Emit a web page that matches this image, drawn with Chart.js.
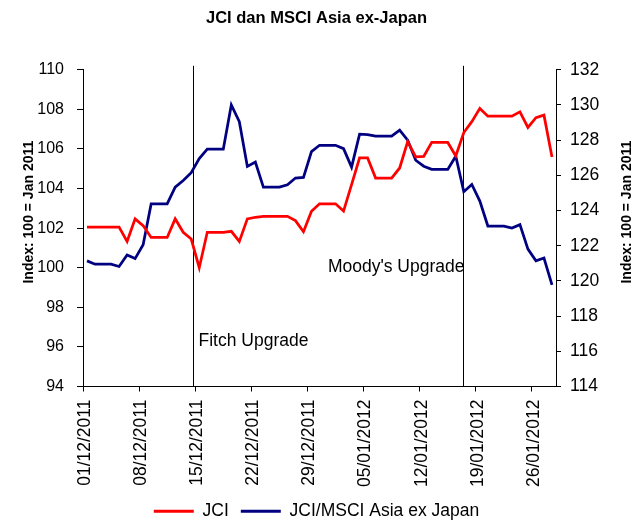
<!DOCTYPE html>
<html>
<head>
<meta charset="utf-8">
<title>JCI dan MSCI Asia ex-Japan</title>
<script src="https://cdn.jsdelivr.net/npm/chart.js@4.4.1/dist/chart.umd.min.js"></script>
<style>
  html, body { margin: 0; padding: 0; background: #fff; }
  #wrap { width: 633px; height: 521px; }
</style>
</head>
<body>
<div id="wrap"><canvas id="jciChart"></canvas></div>
<script>
    // daily index values, 01/12/2011 .. 28/01/2012 (one per day)
    const jci = [
        102.05, 102.05, 102.05, 102.05, 102.05, 101.33, 102.47, 102.13, 101.53, 101.53,
        101.53, 102.47, 101.79, 101.45, 100.00, 101.79, 101.79, 101.79, 101.84, 101.33,
        102.47, 102.55, 102.60, 102.60, 102.60, 102.60, 102.38, 101.82, 102.85, 103.23,
        103.23, 103.23, 102.86, 104.20, 105.55, 105.55, 104.53, 104.53, 104.53, 105.04,
        106.37, 105.60, 105.62, 106.33, 106.33, 106.33, 105.65, 106.83, 107.38, 108.05,
        107.66, 107.66, 107.66, 107.66, 107.88, 107.09, 107.58, 107.71, 105.60
    ];
    const jciMsci = [
        121.14, 120.95, 120.95, 120.95, 120.82, 121.47, 121.27, 122.06, 124.38, 124.38,
        124.38, 125.33, 125.71, 126.15, 126.95, 127.49, 127.49, 127.49, 130.00, 129.05,
        126.51, 126.76, 125.33, 125.33, 125.33, 125.47, 125.85, 125.88, 127.35, 127.71,
        127.71, 127.71, 127.52, 126.47, 128.34, 128.32, 128.23, 128.23, 128.23, 128.57,
        128.00, 126.86, 126.52, 126.34, 126.34, 126.34, 127.09, 125.07, 125.48, 124.54,
        123.12, 123.12, 123.12, 123.01, 123.20, 121.81, 121.14, 121.30, 119.77
    ];
    const tickLabels = ['01/12/2011', '08/12/2011', '15/12/2011', '22/12/2011', '29/12/2011',
        '05/01/2012', '12/01/2012', '19/01/2012', '26/01/2012'];

    // rating events (day offset from 01/12/2011)
    const eventDays = [13.76, 47.45];
    const eventNames = ['Fitch Upgrade', "Moody's Upgrade"];

    const FONT = '"Liberation Sans", Arial, sans-serif';
    Chart.defaults.font.family = FONT;
    Chart.defaults.color = '#000';

    // label placement for the events, in left-axis units
    const eventText = [
        { level: 96.03, side: 'right' },
        { level: 99.77, side: 'left' }
    ];

    const extras = {
        id: 'extras',
        beforeDatasetsDraw(chart) {
            const { ctx, chartArea, scales } = chart;
            ctx.save();
            ctx.strokeStyle = '#000';
            ctx.lineWidth = 1;
            ctx.fillStyle = '#000';
            ctx.font = '17.5px ' + FONT;
            ctx.textBaseline = 'alphabetic';
            eventDays.forEach((d, i) => {
                const x = Math.round(scales.x.getPixelForValue(d)) + 0.5;
                ctx.beginPath();
                ctx.moveTo(x, chartArea.top - 4);
                ctx.lineTo(x, chartArea.bottom);
                ctx.stroke();
                const y = scales.y.getPixelForValue(eventText[i].level);
                if (eventText[i].side === 'right') {
                    ctx.textAlign = 'left';
                    ctx.fillText(eventNames[i], x + 5, y);
                } else {
                    ctx.textAlign = 'right';
                    ctx.fillText(eventNames[i], x + 1, y);
                }
            });
            ctx.restore();
        },
        afterDraw(chart) {
            const { ctx, chartArea } = chart;
            const midY = (chartArea.top + chartArea.bottom) / 2 - 16;
            ctx.save();
            ctx.font = 'bold 14px ' + FONT;
            ctx.fillStyle = '#000';
            ctx.textAlign = 'center';
            ctx.textBaseline = 'middle';
            [29, 627].forEach(x => {
                ctx.save();
                ctx.translate(x, midY);
                ctx.rotate(-Math.PI / 2);
                ctx.fillText('Index: 100 = Jan 2011', 0, 0);
                ctx.restore();
            });
            ctx.restore();
        }
    };

    const ctx = document.getElementById('jciChart').getContext('2d');
    const jciChart = new Chart(ctx, {
        type: 'line',
        data: {
            datasets: [{
                label: 'JCI',
                data: jci.map((v, i) => ({ x: i + 0.5, y: v })),
                borderColor: '#ff0000',
                backgroundColor: '#ff0000',
                borderWidth: 2.75,
                pointRadius: 0,
                yAxisID: 'y'
            }, {
                label: 'JCI/MSCI Asia ex Japan',
                data: jciMsci.map((v, i) => ({ x: i + 0.5, y: v })),
                borderColor: '#000080',
                backgroundColor: '#000080',
                borderWidth: 2.75,
                pointRadius: 0,
                yAxisID: 'y1'
            }]
        },
        options: {
            responsive: true,
            maintainAspectRatio: false,
            animation: false,
            layout: { padding: { bottom: -9 } },
            plugins: {
                title: {
                    display: true,
                    text: 'JCI dan MSCI Asia ex-Japan',
                    font: { size: 16.5, weight: 'bold' },
                    color: '#000',
                    padding: { top: 9, bottom: 41 }
                },
                legend: {
                    position: 'bottom',
                    labels: {
                        boxWidth: 40,
                        boxHeight: 3,
                        padding: 12,
                        font: { size: 17.5 },
                        color: '#000',
                        generateLabels(chart) {
                            const items = Chart.defaults.plugins.legend.labels.generateLabels(chart);
                            items.forEach(it => { it.lineWidth = 0; });
                            return items;
                        }
                    }
                },
                tooltip: { enabled: false }
            },
            scales: {
                x: {
                    type: 'linear',
                    min: 0,
                    max: 59,
                    grid: { drawOnChartArea: false, tickLength: 5, color: '#000' },
                    border: { color: '#000' },
                    ticks: {
                        stepSize: 7,
                        includeBounds: false,
                        autoSkip: false,
                        minRotation: 90,
                        maxRotation: 90,
                        padding: 8,
                        labelOffset: 2,
                        font: { size: 17.5 },
                        callback: v => tickLabels[v / 7] ?? ''
                    },
                    afterFit: s => { s.height = 104; }
                },
                y: {
                    position: 'left',
                    min: 94,
                    max: 110,
                    grid: { drawOnChartArea: false, tickLength: 6, color: '#000' },
                    border: { color: '#000' },
                    ticks: { stepSize: 2, padding: 13, font: { size: 16 } },
                    afterFit: s => { s.width = 83; }
                },
                y1: {
                    position: 'right',
                    min: 114,
                    max: 132,
                    grid: { drawOnChartArea: false, tickLength: 5, color: '#000' },
                    border: { color: '#000' },
                    ticks: { stepSize: 2, padding: 9, font: { size: 17.5 } },
                    afterFit: s => { s.width = 77; }
                }
            }
        },
        plugins: [extras]
    });
</script>
</body>
</html>
